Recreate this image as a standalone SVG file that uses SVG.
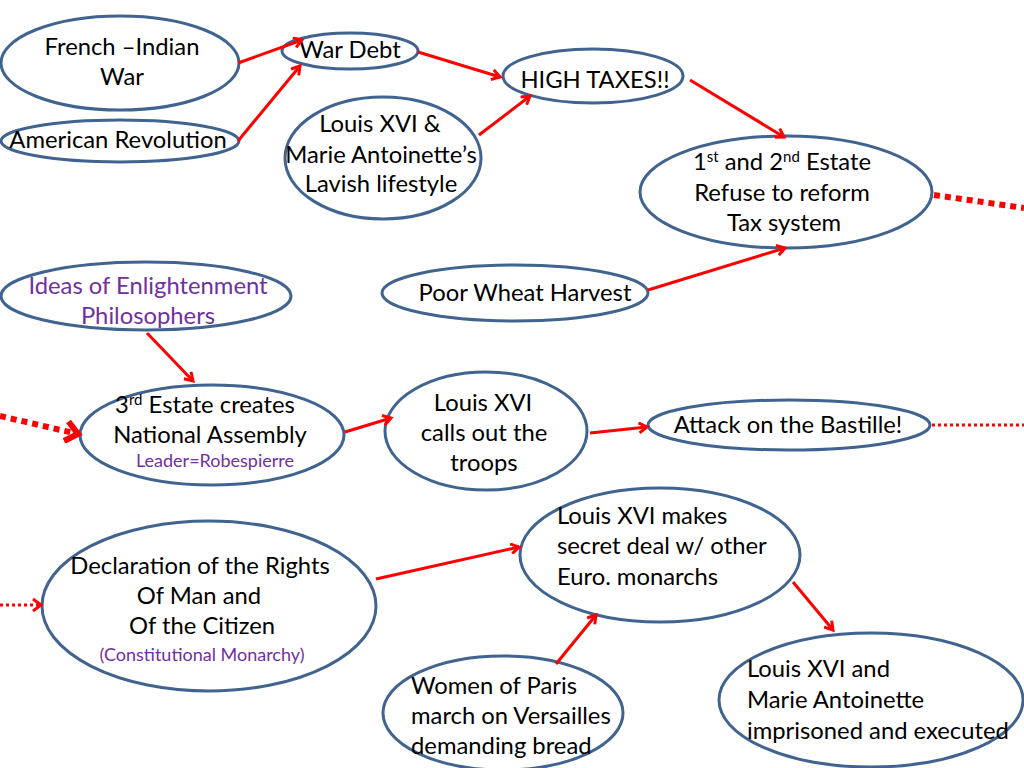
<svg xmlns="http://www.w3.org/2000/svg" width="1024" height="768" viewBox="0 0 1024 768">
<defs>
<style>
.n{fill:#fff;stroke:#41638F;stroke-width:3}
.t{font-family:Lato,"Open Sans","Liberation Sans",sans-serif;font-size:23.8px;fill:#000}
.c{text-anchor:middle}
.p{fill:#7030A0}
.s{font-size:18px}
.sup{font-size:15px}
.a{stroke:#F00;stroke-width:3;fill:none;marker-end:url(#ah)}
.d1{stroke:#F00;stroke-width:6;fill:none;stroke-dasharray:6 5}
.d2{stroke:#F00;stroke-width:3;fill:none;stroke-dasharray:3 3}
</style>
<marker id="ah" markerWidth="12" markerHeight="12" refX="9" refY="6" orient="auto" markerUnits="userSpaceOnUse">
<path d="M1,1 L9,6 L1,11" stroke="#F00" stroke-width="3" fill="none"/>
</marker>
<marker id="ahb" markerWidth="20" markerHeight="24" refX="14" refY="12" orient="auto" markerUnits="userSpaceOnUse">
<path d="M2,2 L14,12 L2,22" stroke="#F00" stroke-width="6" fill="none"/>
</marker>
<marker id="ahs" markerWidth="12" markerHeight="14" refX="9" refY="7" orient="auto" markerUnits="userSpaceOnUse">
<path d="M1,1 L9,7 L1,13" stroke="#F00" stroke-width="3" fill="none"/>
</marker>
</defs>
<rect width="1024" height="768" fill="#fff"/>

<g id="french-indian-war">
<ellipse class="n" cx="120" cy="63" rx="119" ry="47"/>
<text class="t c" x="122" y="55">French –Indian</text>
<text class="t c" x="122" y="85">War</text>
</g>
<g id="american-revolution">
<ellipse class="n" cx="120" cy="141" rx="119" ry="21"/>
<text class="t c" x="118" y="148">American Revolution</text>
</g>
<g id="war-debt">
<ellipse class="n" cx="350" cy="51" rx="68" ry="18"/>
<text class="t c" x="350" y="58">War Debt</text>
</g>
<g id="lavish-lifestyle">
<ellipse class="n" cx="383" cy="158" rx="98" ry="61"/>
<text class="t c" x="380" y="132">Louis XVI &amp;</text>
<text class="t c" x="381" y="163">Marie Antoinette’s</text>
<text class="t c" x="381" y="192">Lavish lifestyle</text>
</g>
<g id="high-taxes">
<ellipse class="n" cx="593" cy="76" rx="90" ry="27"/>
<text class="t c" x="595" y="88">HIGH TAXES!!</text>
</g>
<g id="estates-refuse">
<ellipse class="n" cx="786" cy="192" rx="146" ry="56"/>
<text class="t c" x="782" y="170">1<tspan class="sup" dy="-8">st</tspan><tspan dy="8"> and 2</tspan><tspan class="sup" dy="-8">nd</tspan><tspan dy="8"> Estate</tspan></text>
<text class="t c" x="782" y="201">Refuse to reform</text>
<text class="t c" x="784" y="231">Tax system</text>
</g>
<g id="poor-wheat-harvest">
<ellipse class="n" cx="515" cy="293" rx="133" ry="28"/>
<text class="t c" x="525" y="301">Poor Wheat Harvest</text>
</g>
<g id="enlightenment">
<ellipse class="n" cx="146" cy="296" rx="145" ry="34"/>
<text class="t c p" x="148" y="294">Ideas of Enlightenment</text>
<text class="t c p" x="148" y="324">Philosophers</text>
</g>
<g id="national-assembly">
<ellipse class="n" cx="212" cy="435" rx="132" ry="50"/>
<text class="t c" x="205" y="413">3<tspan class="sup" dy="-8">rd</tspan><tspan dy="8"> Estate creates</tspan></text>
<text class="t c" x="210" y="443">National Assembly</text>
<text class="t c p s" x="215" y="467">Leader=Robespierre</text>
</g>
<g id="calls-troops">
<ellipse class="n" cx="486" cy="431" rx="101" ry="59"/>
<text class="t c" x="483" y="411">Louis XVI</text>
<text class="t c" x="484" y="441">calls out the</text>
<text class="t c" x="484" y="471">troops</text>
</g>
<g id="bastille">
<ellipse class="n" cx="789" cy="425" rx="141" ry="25"/>
<text class="t c" x="788" y="433">Attack on the Bastille!</text>
</g>
<g id="declaration">
<ellipse class="n" cx="209" cy="606" rx="167" ry="85"/>
<text class="t c" x="200" y="574">Declaration of the Rights</text>
<text class="t c" x="199" y="604">Of Man and</text>
<text class="t c" x="202" y="634">Of the Citizen</text>
<text class="t c p s" x="202" y="661">(Constitutional Monarchy)</text>
</g>
<g id="secret-deal">
<ellipse class="n" cx="660" cy="555" rx="140" ry="67"/>
<text class="t" x="557" y="524">Louis XVI makes</text>
<text class="t" x="557" y="554">secret deal w/ other</text>
<text class="t" x="557" y="585">Euro. monarchs</text>
</g>
<g id="women-of-paris">
<ellipse class="n" cx="503" cy="713" rx="120" ry="57"/>
<text class="t" x="411" y="694">Women of Paris</text>
<text class="t" x="411" y="724">march on Versailles</text>
<text class="t" x="411" y="754">demanding bread</text>
</g>
<g id="imprisoned-executed">
<ellipse class="n" cx="871" cy="700" rx="152" ry="67"/>
<text class="t" x="747" y="677">Louis XVI and</text>
<text class="t" x="747" y="708">Marie Antoinette</text>
<text class="t" x="747" y="739">imprisoned and executed</text>
</g>

<g id="connectors">
<line class="a" x1="238" y1="63" x2="302" y2="40"/>
<line class="a" x1="238" y1="141" x2="300" y2="66"/>
<line class="a" x1="418" y1="52" x2="500" y2="77"/>
<line class="a" x1="479" y1="135" x2="530" y2="96"/>
<line class="a" x1="690" y1="80" x2="784" y2="137"/>
<line class="a" x1="648" y1="290" x2="785" y2="248"/>
<line class="d1" x1="934" y1="195" x2="1024" y2="208"/>
<line class="a" x1="147" y1="333" x2="193" y2="381"/>
<line class="d1" x1="0" y1="416" x2="78" y2="434" style="marker-end:url(#ahb)"/>
<line class="a" x1="345" y1="432" x2="391" y2="418"/>
<line class="a" x1="590" y1="433" x2="647" y2="427"/>
<line class="d2" x1="932" y1="425" x2="1024" y2="425"/>
<line class="d2" x1="0" y1="605" x2="41" y2="605" style="marker-end:url(#ahs)"/>
<line class="a" x1="376" y1="579" x2="519" y2="547"/>
<line class="a" x1="556" y1="664" x2="596" y2="615"/>
<line class="a" x1="793" y1="582" x2="833" y2="630"/>
</g>
</svg>
